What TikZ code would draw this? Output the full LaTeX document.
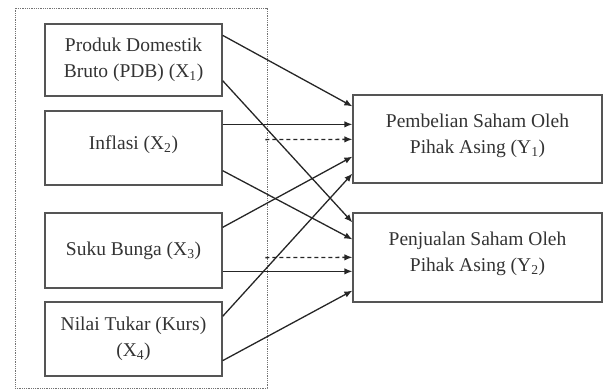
\documentclass[tikz,border=0pt]{standalone}
\usepackage{fontspec}
\setmainfont{Liberation Serif}
\usetikzlibrary{arrows.meta}
\definecolor{ink}{HTML}{333333}
\definecolor{edge}{HTML}{555555}
\begin{document}
\begin{tikzpicture}[x=1pt,y=1pt,
  box/.style={draw=edge, line width=1.3pt, inner sep=0pt, align=center, text=ink,
    font=\fontsize{19.5}{26}\selectfont},
  conn/.style={draw=black!85, line width=1.3pt, -{Latex[length=8pt,width=6.5pt]}},
  dconn/.style={conn, dash pattern=on 4pt off 3pt},
  grpbox/.style={draw=black!55, densely dotted, line width=0.8pt, inner sep=0pt}]
\useasboundingbox (0,0) rectangle (604,-389);
\node[grpbox, minimum width=252pt, minimum height=380pt] (grp) at (141,-198) {};
\node[box, minimum width=177pt, minimum height=72pt] (x1) at (133.5,-60) {Produk Domestik\\Bruto (PDB) (X\textsubscript{1})};
\node[box, minimum width=177pt, minimum height=74pt] (x2) at (133.5,-148) {Inflasi (X\textsubscript{2})\\[-16pt]};
\node[box, minimum width=177pt, minimum height=75pt] (x3) at (133.5,-250.5) {Suku Bunga (X\textsubscript{3})};
\node[box, minimum width=177pt, minimum height=74pt] (x4) at (133.5,-339) {Nilai Tukar (Kurs)\\(X\textsubscript{4})};
\node[box, minimum width=249pt, minimum height=88pt] (y1) at (477.5,-139) {Pembelian Saham Oleh\\Pihak Asing (Y\textsubscript{1})\\[-16pt]};
\node[box, minimum width=249pt, minimum height=89pt] (y2) at (477.5,-257.5) {Penjualan Saham Oleh\\Pihak Asing (Y\textsubscript{2})\\[-14pt]};
% arrows
\draw[conn] ([yshift=-12pt]x1.north east) -- ([yshift=-12pt]y1.north west);
\draw[conn] ([yshift=16pt]x1.south east) -- ([yshift=-10pt]y2.north west);
\draw[conn] ([yshift=-14pt]x2.north east) -- ([yshift=-30pt]y1.north west);
\draw[dconn] ([xshift=-2pt,yshift=-132pt]grp.north east) -- ([yshift=-45pt]y1.north west);
\draw[conn] ([yshift=15pt]x2.south east) -- ([yshift=-27pt]y2.north west);
\draw[conn] ([yshift=-15pt]x3.north east) -- ([yshift=27pt]y1.south west);
\draw[conn] ([yshift=-15pt]x4.north east) -- ([yshift=10pt]y1.south west);
\draw[dconn] ([xshift=-2pt,yshift=-250pt]grp.north east) -- ([yshift=-45pt]y2.north west);
\draw[conn] ([yshift=-59pt]x3.north east) -- ([yshift=-59pt]y2.north west);
\draw[conn] ([yshift=16pt]x4.south east) -- ([yshift=12pt]y2.south west);
\end{tikzpicture}
\end{document}
